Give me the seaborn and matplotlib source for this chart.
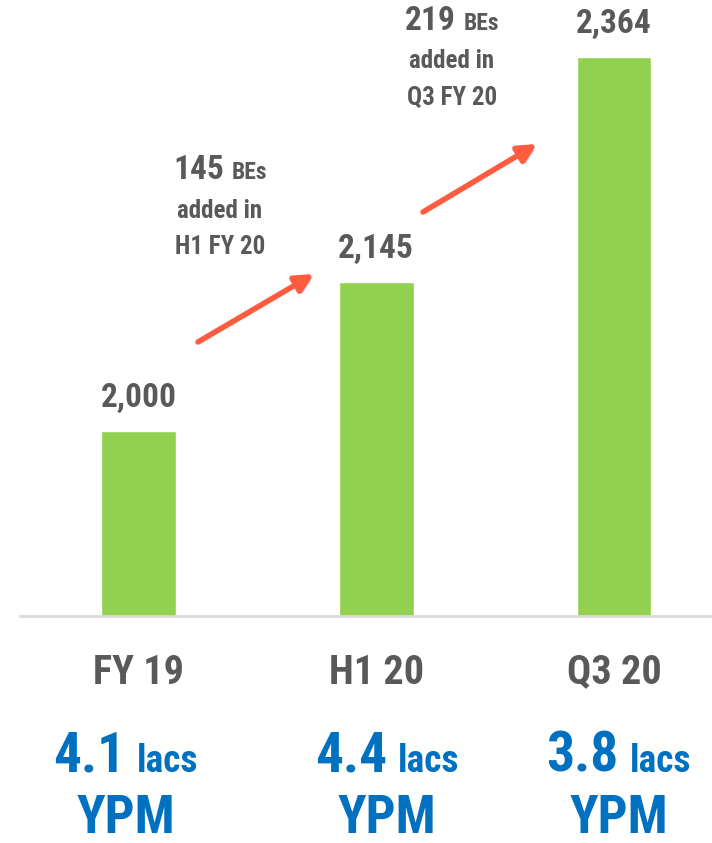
"""
BE growth bar chart with YPM footnotes.
"""

import matplotlib
matplotlib.use("Agg")
import matplotlib.pyplot as plt
import matplotlib.patheffects as pe
from matplotlib import font_manager
from matplotlib.offsetbox import TextArea, HPacker, VPacker, AnnotationBbox
import pandas as pd
import seaborn as sns

# ──────────────────────────────────────────────────────────
#  Data
# ──────────────────────────────────────────────────────────
periods   = ["FY 19", "H1 20", "Q3 20"]
be_counts = [2000, 2145, 2364]
ypm_value = ["4.1", "4.4", "3.8"]
ypm_unit  = "lacs"
ypm_label = "YPM"
added_num = ["145", "219"]
added_per = ["H1 FY 20", "Q3 FY 20"]

GREEN = "#92D050"
GREY  = "#595959"
BLUE  = "#0070C0"
RED   = "#FF5B3F"
LINE  = "#D9D9D9"

sns.set_theme(style="white")

# pick a narrow face if one is around, else plain Liberation Sans
installed = {f.name for f in font_manager.fontManager.ttflist}
narrow = [n for n in ["Liberation Sans Narrow", "Arial Narrow", "DejaVu Sans Condensed",
                      "Roboto Condensed", "Open Sans Condensed"] if n in installed]
FAMILY = narrow[0] if narrow else "Liberation Sans"
K = 1.0 if narrow else 0.9   # shrink wide face a bit to keep text widths close
plt.rcParams["font.family"] = [FAMILY, "DejaVu Sans"]
plt.rcParams["font.weight"] = "bold"

W, H = 712, 843
fig = plt.figure(figsize=(W / 100, H / 100), dpi=100)
ax = fig.add_axes([20 / W, (H - 616) / H, 692 / W, 616 / H])

df = pd.DataFrame({"period": periods, "count": be_counts})
sns.barplot(data=df, x="period", y="count", color=GREEN, width=0.315,
            saturation=1, ax=ax)

ax.set_xlim(-0.498, 2.412)
ax.set_ylim(1820, 2419)
ax.set_xlabel("")
ax.set_ylabel("")
ax.set_yticks([])
for s in ["left", "right", "top"]:
    ax.spines[s].set_visible(False)
ax.spines["bottom"].set_color(LINE)
ax.spines["bottom"].set_linewidth(2)
ax.tick_params(axis="x", length=0, pad=27, labelsize=29 * K, colors=GREY)
for lab in ax.get_xticklabels():
    lab.set_fontweight("bold")

ax.bar_label(ax.containers[0], labels=[f"{v:,}" for v in be_counts],
             padding=12, fontsize=24 * K, fontweight="bold", color=GREY)


def px(x, y):
    """pixel (from top-left of figure) -> axes fraction"""
    return ((x - 20) / 692, (616 - y) / 616)


def ta(s, size, color):
    return TextArea(s, textprops=dict(size=size * K, weight="bold", color=color))


# ──────────────────────────────────────────────────────────
#  "BEs added" callouts
# ──────────────────────────────────────────────────────────
def callout(num, per, xy):
    top = HPacker(children=[ta(num, 24, GREY), ta("BEs", 17, GREY)],
                  align="baseline", pad=0, sep=5)
    box = VPacker(children=[top, ta("added in", 18, GREY), ta(per, 18, GREY)],
                  align="center", pad=0, sep=9)
    ab = AnnotationBbox(box, px(*xy), xycoords="axes fraction",
                        box_alignment=(0.5, 1), frameon=False,
                        annotation_clip=False)
    ax.add_artist(ab)


callout(added_num[0], added_per[0], (220, 154))
callout(added_num[1], added_per[1], (452, 5))

arrows = [((198, 342), (314, 274)), ((423, 212), (537, 144))]
for start, end in arrows:
    ax.annotate("", xy=px(*end), xycoords="axes fraction",
                xytext=px(*start), textcoords="axes fraction",
                arrowprops=dict(arrowstyle="-|>,head_length=0.9,head_width=0.45",
                                color=RED, lw=4, shrinkA=0, shrinkB=0,
                                path_effects=[pe.SimplePatchShadow(offset=(2, -2), alpha=0.25),
                                              pe.Normal()]))

# ──────────────────────────────────────────────────────────
#  YPM footnotes
# ──────────────────────────────────────────────────────────
ypm_centers = [126, 387, 619]
for val, cx in zip(ypm_value, ypm_centers):
    line1 = HPacker(children=[ta(val, 40, BLUE), ta(ypm_unit, 27, BLUE)],
                    align="baseline", pad=0, sep=8)
    ab = AnnotationBbox(line1, px(cx, 731), xycoords="axes fraction",
                        box_alignment=(0.5, 1), frameon=False,
                        annotation_clip=False)
    ax.add_artist(ab)
    ax.annotate(ypm_label, xy=px(cx, 833), xycoords="axes fraction",
                ha="center", va="baseline", fontsize=38 * K,
                fontweight="bold", color=BLUE, annotation_clip=False)

fig.savefig("out.png", dpi=100)
